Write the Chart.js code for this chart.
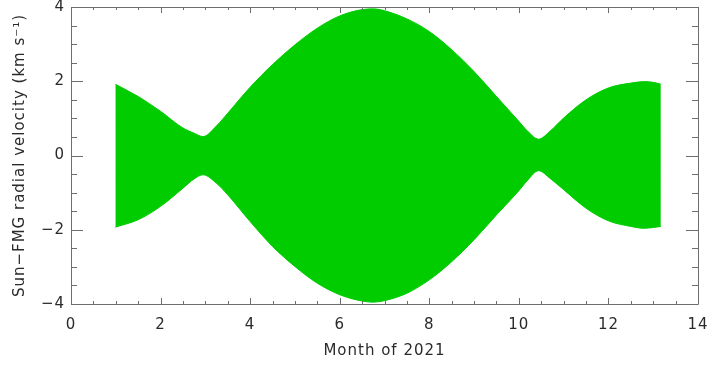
<!DOCTYPE html>
<html>
<head>
<meta charset="utf-8">
<script src="https://cdn.jsdelivr.net/npm/chart.js@4.4.1/dist/chart.umd.min.js"></script>
<style>
  html, body { margin: 0; padding: 0; background: #ffffff; }
  #wrap { width: 708px; height: 365px; position: relative; }
</style>
</head>
<body>
<div id="wrap"><canvas id="c" width="708" height="365"></canvas></div>
<script>
// Envelope of the Sun–FMG radial velocity (km/s) through 2021
const months = [0.99, 1.5, 2.0, 2.5, 2.75, 2.95, 3.25, 3.5, 4.0, 4.5, 5.0, 5.5, 6.0, 6.5, 6.75, 7.0, 7.5, 8.0, 8.5, 9.0, 9.5, 10.0, 10.2, 10.44, 10.7, 11.0, 11.5, 12.0, 12.5, 12.8, 13.0, 13.17];
const upperVel = [1.92, 1.59, 1.19, 0.74, 0.60, 0.51, 0.80, 1.14, 1.84, 2.45, 2.98, 3.43, 3.76, 3.93, 3.95, 3.90, 3.68, 3.34, 2.85, 2.26, 1.59, 0.92, 0.65, 0.44, 0.66, 1.01, 1.50, 1.82, 1.95, 1.99, 1.97, 1.92];
const lowerVel = [-1.93, -1.73, -1.37, -0.88, -0.63, -0.52, -0.75, -1.06, -1.78, -2.45, -2.99, -3.44, -3.75, -3.92, -3.95, -3.91, -3.71, -3.35, -2.86, -2.27, -1.60, -0.95, -0.66, -0.41, -0.62, -0.92, -1.42, -1.76, -1.91, -1.96, -1.94, -1.91];
const xTicks = [0, 2, 4, 6, 8, 10, 12, 14];
const yTicks = [-4, -2, 0, 2, 4];

const GREEN = '#00cc00';
const AXIS = '#6e6e6e';
const TEXT = '#2a2a2a';
const FONT = 'DejaVu Sans, sans-serif';

const fmt = v => (v < 0 ? '\u2212' + Math.abs(v) : String(v));

// Box frame and inward tick marks on all four sides
const frameTicks = {
  id: 'frameTicks',
  beforeDraw(chart) {
    chart.ctx.letterSpacing = '1px';
  },
  afterDatasetsDraw(chart) {
    const { ctx, chartArea: a, scales: { x, y } } = chart;
    ctx.save();
    ctx.strokeStyle = AXIS;
    ctx.lineWidth = 1;
    ctx.beginPath();
    ctx.rect(Math.round(a.left) + 0.5, Math.round(a.top) + 0.5,
             Math.round(a.right - a.left), Math.round(a.bottom - a.top));
    for (let v = 0; v <= 14.001; v += 0.5) {
      const px = Math.round(x.getPixelForValue(v)) + 0.5;
      const len = Math.abs(v % 2) < 1e-6 ? 6 : 3;
      ctx.moveTo(px, a.bottom); ctx.lineTo(px, a.bottom - len);
      ctx.moveTo(px, a.top); ctx.lineTo(px, a.top + len);
    }
    for (let v = -4; v <= 4.001; v += 0.5) {
      const py = Math.round(y.getPixelForValue(v)) + 0.5;
      const len = Math.abs(v % 2) < 1e-6 ? 12 : 6;
      ctx.moveTo(a.left, py); ctx.lineTo(a.left + len, py);
      ctx.moveTo(a.right, py); ctx.lineTo(a.right - len, py);
    }
    ctx.stroke();
    ctx.restore();
  }
};

new Chart(document.getElementById('c'), {
  type: 'line',
  data: {
    datasets: [
      {
        data: months.map((m, i) => ({ x: m, y: upperVel[i] })),
        borderColor: GREEN, backgroundColor: GREEN, borderWidth: 1,
        pointRadius: 0, fill: '+1', cubicInterpolationMode: 'monotone'
      },
      {
        data: months.map((m, i) => ({ x: m, y: lowerVel[i] })),
        borderColor: GREEN, backgroundColor: GREEN, borderWidth: 1,
        pointRadius: 0, fill: false, cubicInterpolationMode: 'monotone'
      }
    ]
  },
  options: {
    responsive: false,
    animation: false,
    events: [],
    layout: { padding: { top: 7, right: 10, left: 0, bottom: 0 } },
    plugins: { legend: { display: false }, tooltip: { enabled: false } },
    scales: {
      x: {
        type: 'linear', min: 0, max: 14,
        afterBuildTicks: s => { s.ticks = xTicks.map(v => ({ value: v })); },
        afterFit: s => { s.height = 61; s.paddingLeft = 0; s.paddingRight = 0; },
        grid: { display: false, drawTicks: false },
        border: { display: false },
        ticks: { color: TEXT, font: { family: FONT, size: 15 }, padding: 12, maxRotation: 0, callback: fmt },
        title: { display: true, text: 'Month of 2021', color: TEXT, font: { family: FONT, size: 15 }, padding: { top: 0, bottom: 5 } }
      },
      y: {
        type: 'linear', min: -4, max: 4,
        afterBuildTicks: s => { s.ticks = yTicks.map(v => ({ value: v })); },
        afterFit: s => { s.width = 71; s.paddingTop = 0; s.paddingBottom = 0; },
        grid: { display: false, drawTicks: false },
        border: { display: false },
        ticks: { color: TEXT, font: { family: FONT, size: 15 }, padding: 6, callback: fmt },
        title: { display: true, text: 'Sun\u2212FMG radial velocity (km s\u207B\u00B9)', color: TEXT, font: { family: FONT, size: 15 }, padding: { top: 11, bottom: 0 } }
      }
    }
  },
  plugins: [frameTicks]
});
</script>
</body>
</html>
